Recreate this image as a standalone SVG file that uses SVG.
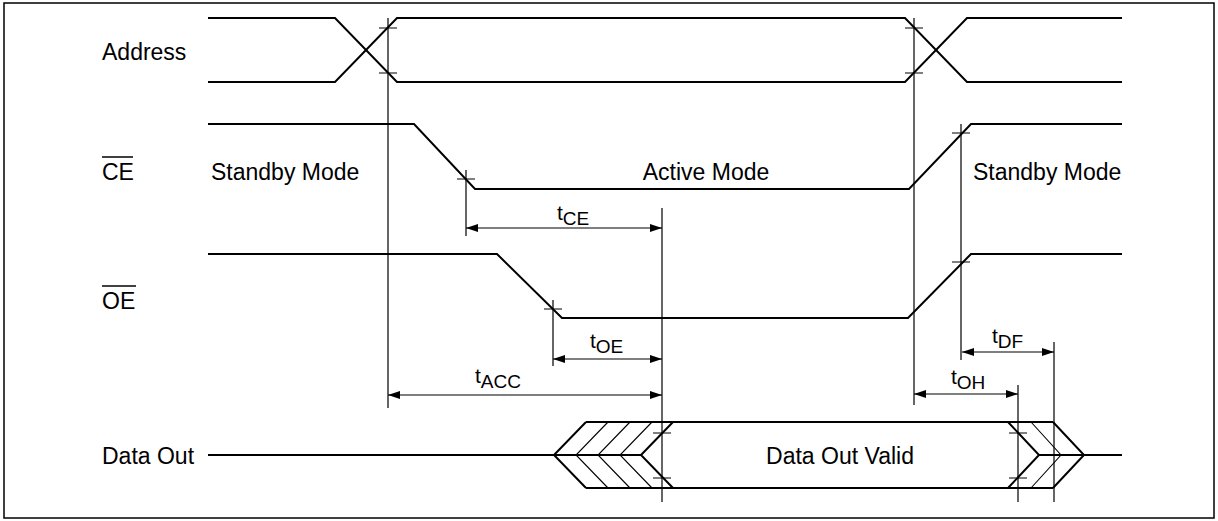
<svg xmlns="http://www.w3.org/2000/svg" width="1218" height="521" viewBox="0 0 1218 521">
<style>
.sig{fill:none;stroke:#000;stroke-width:2;stroke-linejoin:miter}
.thin{fill:none;stroke:#000;stroke-width:1.1}
.vl{fill:none;stroke:#000;stroke-width:1.2}
.tk{fill:none;stroke:#000;stroke-width:1.2}
.lbl{font-family:"Liberation Sans",Arial,sans-serif;font-size:23px;fill:#000}
.t{font-family:"Liberation Sans",Arial,sans-serif;font-size:21px;fill:#000}
.sub{font-size:19px}
.dim{fill:none;stroke:#000;stroke-width:1.2;marker-start:url(#ah);marker-end:url(#ah)}
</style>
<defs>
<marker id="ah" viewBox="0 0 12 8" refX="12" refY="4" markerWidth="12" markerHeight="8" markerUnits="userSpaceOnUse" orient="auto-start-reverse">
<path d="M0,0 L12,4 L0,8 Z" fill="#000"/>
</marker>
</defs>
<rect x="4" y="3" width="1210" height="515" fill="#fff" stroke="#000" stroke-width="1.5"/>

<g id="address">
<text class="lbl" x="102" y="60">Address</text>
<path class="sig" d="M208,18 H335 L397,82 H905 L967,18 H1122"/>
<path class="sig" d="M208,82 H335 L397,18 H905 L967,82 H1122"/>
</g>

<g id="ce">
<text class="lbl" x="102" y="180">CE</text>
<line x1="102" y1="157" x2="133" y2="157" stroke="#000" stroke-width="1.5"/>
<path class="sig" d="M208,124 H414 L475,189 H909 L971,124 H1122"/>
<text class="lbl" x="211" y="180">Standby Mode</text>
<text class="lbl" x="706" y="180" text-anchor="middle">Active Mode</text>
<text class="lbl" x="973" y="180">Standby Mode</text>
</g>

<g id="oe">
<text class="lbl" x="102" y="309">OE</text>
<line x1="102" y1="286" x2="136" y2="286" stroke="#000" stroke-width="1.5"/>
<path class="sig" d="M208,254 H497 L562,318 H908 L971,254 H1122"/>
</g>

<g id="dataout">
<text class="lbl" x="102" y="464">Data Out</text>
<path class="sig" d="M208,455 H554 M586,422 L554,455 L586,488 M586,422 H1053 M586,488 H1053 M673,422 L641,455 L673,488 M554,455 H641"/>
<path class="thin" d="M608,422 L576,455 L608,488 M630,422 L598,455 L630,488 M652,422 L620,455 L652,488"/>
<path class="sig" d="M1008,422 L1039,455 L1008,488 M1053,422 L1084,455 L1053,488 M1039,455 H1122"/>
<path class="thin" d="M1031,422 L1061,455 L1031,488"/>
<text class="lbl" x="840" y="464" text-anchor="middle">Data Out Valid</text>
</g>

<g id="connectors">
<path class="vl" d="M388,18 V408 M914,18 V405 M466,170 V236 M553,300 V366 M662,208 V502 M961,124 V360 M1018,385 V502 M1054,342 V502"/>
<path class="tk" d="M379,28 H397 M379,73 H397 M905,28 H923 M905,73 H923 M457,179 H475 M952,133 H970 M544,309 H562 M952,262 H970 M653,433 H671 M653,478 H671 M1009,433 H1027 M1009,478 H1027"/>
<line class="dim" x1="466" y1="228" x2="662" y2="228"/>
<line class="dim" x1="553" y1="359" x2="662" y2="359"/>
<line class="dim" x1="388" y1="395" x2="662" y2="395"/>
<line class="dim" x1="914" y1="394" x2="1018" y2="394"/>
<line class="dim" x1="962" y1="352" x2="1054" y2="352"/>
<text class="t" x="557" y="220">t<tspan class="sub" dy="5">CE</tspan></text>
<text class="t" x="590" y="348">t<tspan class="sub" dy="5">OE</tspan></text>
<text class="t" x="475" y="383">t<tspan class="sub" dy="5">ACC</tspan></text>
<text class="t" x="951" y="384">t<tspan class="sub" dy="5">OH</tspan></text>
<text class="t" x="992" y="343">t<tspan class="sub" dy="5">DF</tspan></text>
</g>
</svg>
